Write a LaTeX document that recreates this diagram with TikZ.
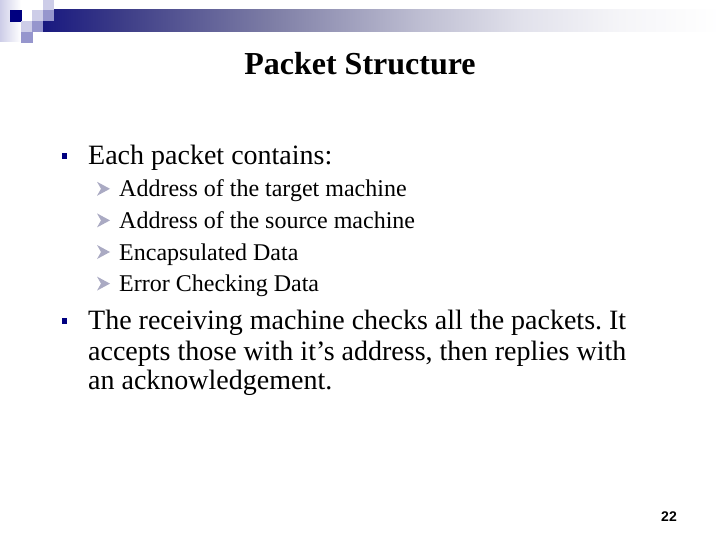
\documentclass[tikz,border=0pt]{standalone}
\usepackage{fontspec}
\setmainfont{Liberation Serif}
\newfontfamily\numfont{Liberation Sans}
\frenchspacing
\definecolor{navy}{RGB}{0,0,128}
\definecolor{midlav}{RGB}{150,150,205}
\definecolor{litlav}{RGB}{205,205,232}
\definecolor{barl}{RGB}{25,25,128}
\definecolor{bara}{RGB}{60,60,135}
\definecolor{barb}{RGB}{125,125,165}
\definecolor{barc}{RGB}{190,190,210}
\definecolor{bard}{RGB}{225,225,235}
\definecolor{bare}{RGB}{245,245,248}
\definecolor{arrowc}{RGB}{170,170,195}
\tikzset{
  x=1pt,y=-1pt,
  lvlone/.style={anchor=base west,inner sep=0pt,font=\fontsize{28}{28}\selectfont},
  lvltwo/.style={anchor=base west,inner sep=0pt,font=\fontsize{24}{24}\selectfont},
  blt/.style={fill=navy,draw=none},
  chev/.style={fill=arrowc,draw=none},
}
\begin{document}
\begin{tikzpicture}
\useasboundingbox (0,0) rectangle (720,540);
\fill[white] (0,0) rectangle (720,540);
% gradient bar
\shade[left color=barl,right color=bara] (43,10) rectangle (120.5,32);
\shade[left color=bara,right color=barb] (120,10) rectangle (270.5,32);
\shade[left color=barb,right color=barc] (270,10) rectangle (420.5,32);
\shade[left color=barc,right color=bard] (420,10) rectangle (520.5,32);
\shade[left color=bard,right color=bare] (520,10) rectangle (620.5,32);
\shade[left color=bare,right color=white] (620,10) rectangle (720,32);
% decoration squares
\shade[left color=litlav,right color=white] (0,0) rectangle (21,42);
\fill[white] (21,0) rectangle (43,10);
\fill[white] (22,10) rectangle (32,21);
\fill[navy] (10,10) rectangle (22,22);
\fill[litlav] (32,10) rectangle (43,21);
\fill[litlav] (43,0) rectangle (54,10);
\fill[midlav] (43,10) rectangle (54,21);
\fill[litlav] (21,21) rectangle (32,32);
\fill[midlav] (32,21) rectangle (43,32);
\fill[midlav] (21,32) rectangle (33,43);
% title
\node[anchor=base,inner sep=0pt,font=\fontsize{32}{32}\selectfont\bfseries] (title) at (360,75) {Packet Structure};
% first level
\fill[blt] (62,153) rectangle (67,159);
\node[lvlone] (a) at (88,165) {Each packet contains:};
\fill[blt] (62,318) rectangle (67,324);
\node[lvlone] (b1) at (88,329) {The receiving machine checks all the packets. It};
\node[lvlone] (b2) at (88,360) {accepts those with it’s address, then replies with};
\node[lvlone] (b3) at (88,389) {an acknowledgement.};
% second level
\foreach \yy/\nm/\txt in {196.8/c1/Address of the target machine,228.4/c2/Address of the source machine,260/c3/Encapsulated Data,291.6/c4/Error Checking Data}{
  \fill[chev] (97,\yy-15) -- (110,\yy-8) -- (97,\yy-1) -- (101,\yy-8) -- cycle;
  \node[lvltwo] (\nm) at (119,\yy) {\txt};
}
\node[anchor=base,inner sep=0pt,font=\fontsize{14}{14}\selectfont\numfont\bfseries] (pg) at (669,521) {22};
\end{tikzpicture}
\end{document}
